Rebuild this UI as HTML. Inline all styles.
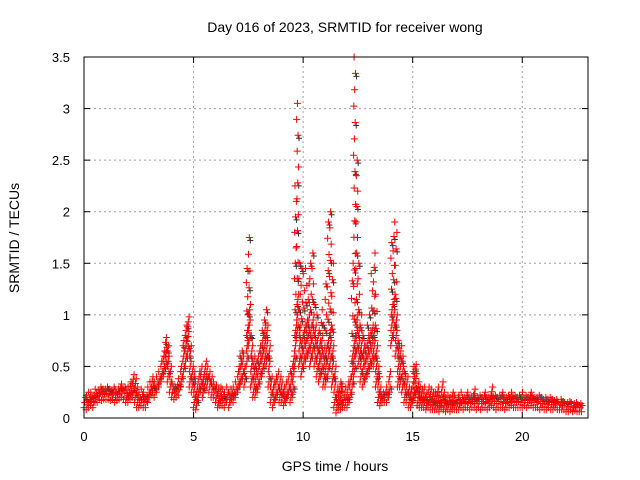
<!DOCTYPE html>
<html><head><meta charset="utf-8"><style>
html,body{margin:0;padding:0;background:#fff}
svg{display:block;font-family:"Liberation Sans",sans-serif}
</style></head><body>
<svg id="chart" width="640" height="480" viewBox="0 0 640 480">
<text x="345" y="32" font-size="14" text-anchor="middle">Day 016 of 2023, SRMTID for receiver wong</text>
<text x="335" y="471" font-size="14" text-anchor="middle">GPS time / hours</text>
<text transform="translate(19,238) rotate(-90)" font-size="14" text-anchor="middle">SRMTID / TECUs</text>
<g id="grid"></g>
<g id="marks"></g>
<rect x="84" y="57" width="504" height="361" fill="none" stroke="#000" stroke-width="1"/>
<g id="ticks"></g>
</svg>
<script>
const xTicks=[0,5,10,15,20];
const yTicks=[0,0.5,1,1.5,2,2.5,3,3.5];
const yTickLabels=["0","0.5","1","1.5","2","2.5","3","3.5"];
const hiVals=[0.2,0.22,0.25,0.25,0.22,0.28,0.27,0.3,0.28,0.28,
0.3,0.28,0.27,0.3,0.25,0.28,0.3,0.33,0.3,0.28,
0.3,0.35,0.42,0.38,0.3,0.25,0.28,0.25,0.22,0.3,
0.35,0.4,0.35,0.4,0.45,0.55,0.65,0.78,0.7,0.5,
0.35,0.3,0.32,0.38,0.5,0.75,0.9,0.98,0.7,0.5,
0.45,0.3,0.45,0.5,0.42,0.55,0.5,0.45,0.4,0.35,
0.32,0.28,0.3,0.28,0.25,0.3,0.25,0.28,0.3,0.35,
0.5,0.6,0.65,0.5,1.45,1.75,0.8,0.6,0.55,0.6,
0.7,0.85,0.95,1.05,0.7,0.4,0.35,0.4,0.45,0.4,
0.35,0.3,0.35,0.4,0.45,0.6,2.25,3.05,1.5,1.45,
1.4,1.45,1.3,1.5,1.6,1.1,1.0,0.85,1.05,0.9,
1.3,1.9,2.0,1.5,0.5,0.3,0.3,0.35,0.25,0.3,
0.35,0.4,1.5,3.5,2.5,1.5,1.0,0.8,0.7,0.9,
1.0,1.4,1.6,1.2,0.5,0.3,0.25,0.25,0.3,0.45,
1.7,1.9,1.8,0.75,0.7,0.6,0.45,0.4,0.3,0.28,
0.5,0.52,0.35,0.3,0.28,0.3,0.25,0.3,0.28,0.25,
0.25,0.3,0.22,0.35,0.25,0.2,0.22,0.2,0.25,0.22,
0.2,0.22,0.25,0.2,0.22,0.25,0.2,0.22,0.28,0.2,
0.22,0.2,0.22,0.25,0.2,0.22,0.3,0.22,0.2,0.22,
0.22,0.25,0.2,0.22,0.2,0.25,0.22,0.2,0.22,0.2,
0.25,0.22,0.2,0.22,0.25,0.2,0.2,0.22,0.2,0.18,
0.2,0.18,0.2,0.18,0.17,0.18,0.15,0.18,0.16,0.15,
0.15,0.16,0.15,0.14,0.15,0.13,0.14,0.12];
const loVals=[0.1,0.08,0.1,0.12,0.1,0.15,0.15,0.18,0.17,0.18,
0.18,0.18,0.17,0.18,0.15,0.17,0.18,0.2,0.18,0.15,
0.15,0.18,0.2,0.15,0.1,0.1,0.12,0.1,0.1,0.15,
0.2,0.22,0.2,0.25,0.3,0.35,0.4,0.45,0.35,0.25,
0.2,0.18,0.2,0.22,0.3,0.4,0.5,0.6,0.3,0.25,
0.1,0.08,0.2,0.25,0.2,0.3,0.3,0.25,0.2,0.2,
0.15,0.1,0.12,0.12,0.1,0.15,0.1,0.15,0.15,0.2,
0.25,0.3,0.35,0.3,0.5,0.7,0.3,0.2,0.2,0.25,
0.35,0.4,0.5,0.5,0.3,0.15,0.1,0.15,0.2,0.15,
0.15,0.12,0.15,0.2,0.15,0.2,0.5,0.8,0.5,0.4,
0.5,0.55,0.6,0.5,0.6,0.5,0.4,0.35,0.4,0.3,
0.3,0.4,0.5,0.3,0.1,0.05,0.08,0.08,0.1,0.1,
0.1,0.15,0.25,0.4,0.6,0.5,0.35,0.3,0.35,0.4,
0.45,0.5,0.5,0.3,0.15,0.12,0.15,0.15,0.15,0.2,
0.7,0.8,0.6,0.3,0.3,0.25,0.15,0.15,0.1,0.1,
0.15,0.2,0.12,0.1,0.1,0.1,0.08,0.1,0.08,0.08,
0.08,0.08,0.06,0.1,0.08,0.06,0.08,0.06,0.08,0.08,
0.08,0.08,0.1,0.08,0.1,0.1,0.08,0.1,0.1,0.08,
0.1,0.08,0.1,0.1,0.08,0.1,0.12,0.1,0.08,0.1,
0.1,0.1,0.08,0.1,0.1,0.12,0.1,0.1,0.1,0.1,
0.1,0.12,0.1,0.12,0.12,0.1,0.1,0.1,0.08,0.1,
0.08,0.08,0.1,0.08,0.08,0.1,0.08,0.08,0.08,0.08,
0.06,0.06,0.08,0.06,0.07,0.06,0.06,0.06];
const timeStep=0.1;
const X0=84,X1=588,Y0=418,Y1=57,XMAX=23,YMAX=3.5;
function xs(t){return X0+(X1-X0)*t/XMAX;}
function ys(v){return Y0-(Y0-Y1)*v/YMAX;}
const NS="http://www.w3.org/2000/svg";
const grid=document.getElementById('grid'),ticks=document.getElementById('ticks'),marks=document.getElementById('marks');
function mk(tag,attrs,parent){const e=document.createElementNS(NS,tag);for(const k in attrs)e.setAttribute(k,attrs[k]);parent.appendChild(e);return e;}
yTicks.forEach((v,i)=>{
  const y=ys(v);
  if(v>0&&v<YMAX){const g=mk('line',{x1:X0,x2:X1,y1:y,y2:y,stroke:'#a0a0a0','stroke-dasharray':'2,3'},grid);
  
  }
  mk('line',{x1:X0,x2:X0+6,y1:y,y2:y,stroke:'#000'},ticks);
  mk('line',{x1:X1,x2:X1-6,y1:y,y2:y,stroke:'#000'},ticks);
  const t=mk('text',{x:X0-14,y:y+5,'font-size':13,'text-anchor':'end'},ticks);t.textContent=yTickLabels[i];
  
  
});
xTicks.forEach(v=>{
  const x=xs(v);
  if(v>0){const g=mk('line',{x1:x,x2:x,y1:Y0,y2:Y1,stroke:'#a0a0a0','stroke-dasharray':'2,3'},grid);
  
  }
  mk('line',{x1:x,x2:x,y1:Y0,y2:Y0-6,stroke:'#000'},ticks);
  mk('line',{x1:x,x2:x,y1:Y1,y2:Y1+6,stroke:'#000'},ticks);
  const t=mk('text',{x:x,y:Y0+23,'font-size':13,'text-anchor':'middle'},ticks);t.textContent=String(v);
  
  
});
let d='',dk='';
function plus(x,y){d+=`M${x-3.5},${y}h7M${x},${y-3.5}v7`;}
hiVals.forEach((hi,i)=>{
  const lo=loVals[i];
  const yl=ys(lo),yh=ys(hi);
  const yd=Math.max(yh,ys(lo+0.4));
  let k=0;
  // dense core
  const n1=Math.max(2,Math.round((yl-yd)/5)+1);
  for(let j=0;j<n1;j++){
    const y=yl+(yd-yl)*(j/(n1-1));
    const x=xs((i+((k*0.37)%1))*timeStep);
    plus(x,y);
    if(k%4===2) dk+=`M${x-2},${y+2}h6M${x+1},${y-1}v6`;
    k++;
  }
  // sparse upper part
  if(yd-yh>2){
    const n2=Math.max(1,Math.round((yd-yh)/16));
    for(let j=1;j<=n2;j++){
      const y=yd+(yh-yd)*(j/n2);
      const x=xs((i+((k*0.37)%1))*timeStep);
      if(j%3===1) dk+=`M${x-2},${y+3}h6M${x+1},${y}v6`;
      plus(x,y);
      k++;
    }
  }
});
const pk=mk('path',{d:dk,stroke:'#333',fill:'none','stroke-width':1},marks);


const pr=mk('path',{d:d,stroke:'#ff0000',fill:'none','stroke-width':1},marks);


</script>
</body></html>
